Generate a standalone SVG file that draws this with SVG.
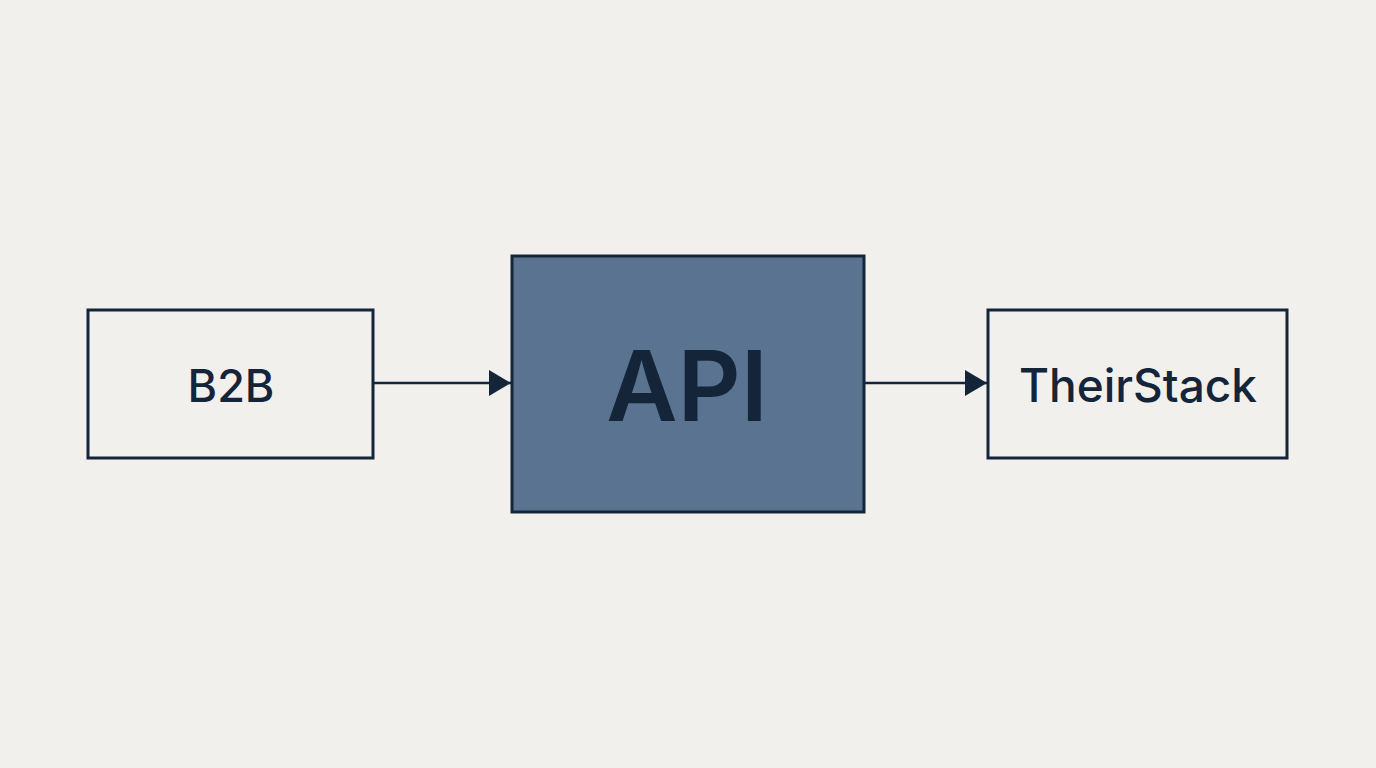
<svg xmlns="http://www.w3.org/2000/svg" width="1376" height="768" viewBox="0 0 1376 768">
<style>
.box{fill:none;stroke:#14253a;stroke-width:3}
.lbl{font-family:Inter,"Liberation Sans",sans-serif;fill:#14253a;text-anchor:middle;dominant-baseline:central}
.con{stroke:#14253a;stroke-width:2.5;fill:none}
</style>
<defs><marker id="a" viewBox="0 0 22 26" markerWidth="22" markerHeight="26" refX="22" refY="13" orient="auto" markerUnits="userSpaceOnUse"><path d="M0,0 L22,13 L0,26 Z" fill="#14253a"/></marker></defs>
<rect width="1376" height="768" fill="#f1f0ed"/>
<g id="connectors">
<line class="con" x1="374" y1="383" x2="511" y2="383" marker-end="url(#a)"/>
<line class="con" x1="864" y1="383" x2="987" y2="383" marker-end="url(#a)"/>
</g>
<g id="b2b"><rect class="box" x="88" y="310" width="285" height="148"/><text class="lbl" x="231" y="385" font-size="45" font-weight="500">B2B</text></g>
<g id="api"><rect class="box" x="512" y="256" width="352" height="256" style="fill:#5a7390"/><text class="lbl" x="687" y="385" font-size="98" font-weight="600">API</text></g>
<g id="theirstack"><rect class="box" x="988" y="310" width="299" height="148"/><text class="lbl" x="1138" y="385" font-size="46" font-weight="500">TheirStack</text></g>
</svg>
